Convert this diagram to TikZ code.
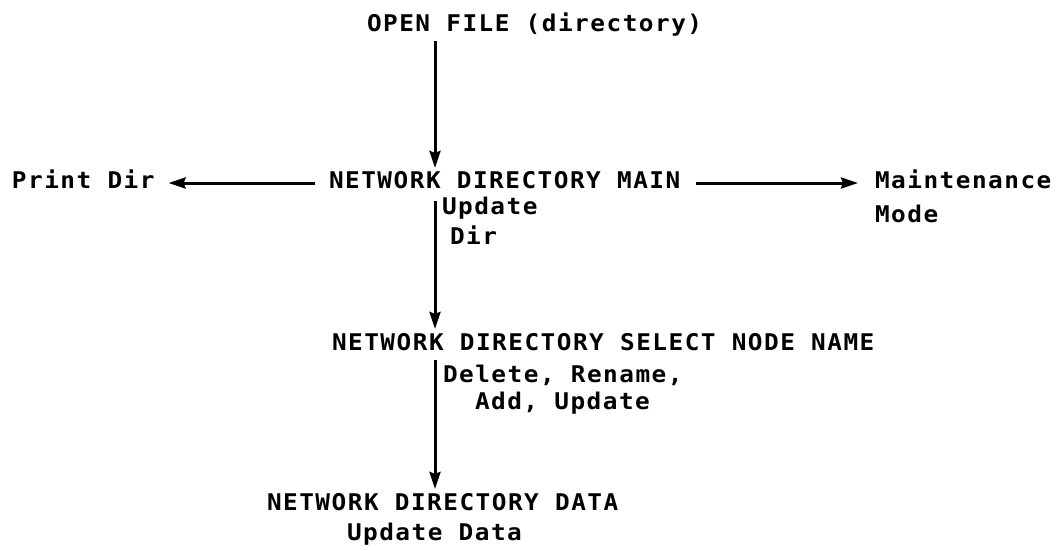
\documentclass[tikz,border=0pt]{standalone}
\usepackage{fontspec}
\newfontfamily\plotfont[FakeStretch=1.06,LetterSpace=6.5]{DejaVu Sans Mono}
\usetikzlibrary{arrows.meta}
\tikzset{
  lbl/.style={anchor=base west, inner sep=0pt, outer sep=0pt,
    font=\plotfont\bfseries\fontsize{23}{27}\selectfont},
  conn/.style={line width=3pt, -{Stealth[length=17pt,width=11pt,inset=2pt]}},
}
\begin{document}
\begin{tikzpicture}[x=1pt,y=-1pt]
\useasboundingbox (0,0) rectangle (1058,550);
\coordinate (trunk) at (435,0);
\node[lbl] (open)  at (367,31)  {OPEN FILE (directory)};
\node[lbl] (main)  at (329,188) {NETWORK DIRECTORY MAIN};
\node[lbl] (print) at (12,188)  {Print Dir};
\node[lbl] (maint) at (875,188) {Maintenance};
\node[lbl] (mode)  at (875,222) {Mode};
\node[lbl] (upd)   at (442,214) {Update};
\node[lbl] (dir)   at (450,244) {Dir};
\node[lbl] (sel)   at (332,350) {NETWORK DIRECTORY SELECT NODE NAME};
\node[lbl] (del)   at (443,382) {Delete, Rename,};
\node[lbl] (add)   at (475,409) {Add, Update};
\node[lbl] (data)  at (267,510) {NETWORK DIRECTORY DATA};
\node[lbl] (upddata) at (347,540) {Update Data};

\coordinate (mainl) at ([yshift=5pt]main.base west);
\coordinate (mainr) at ([yshift=5pt]main.base east);
\draw[conn, shorten <=5pt, shorten >=3pt] (open.south -| trunk) -- (main.north -| trunk);
\draw[conn, shorten <=14pt, shorten >=14pt] (mainl) -- (mainl -| print.east);
\draw[conn, shorten <=16pt, shorten >=17pt] (mainr) -- (mainr -| maint.west);
\draw[conn, shorten <=13pt, shorten >=4pt] (main.south -| trunk) -- (sel.north -| trunk);
\draw[conn, shorten <=10pt, shorten >=4pt] (sel.south -| trunk) -- (data.north -| trunk);
\end{tikzpicture}
\end{document}
